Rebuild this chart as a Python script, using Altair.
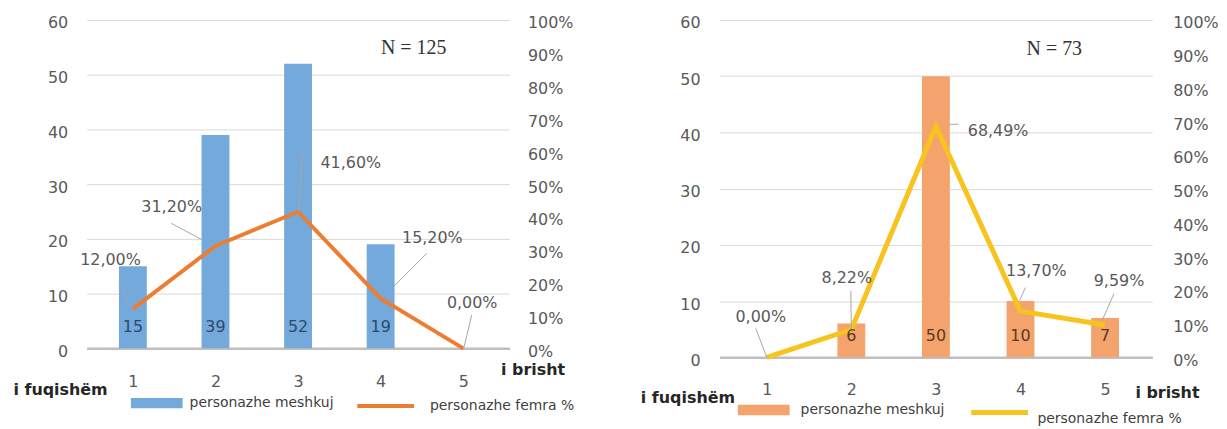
import altair as alt
import pandas as pd

# ---------------- data ----------------
categories = [1, 2, 3, 4, 5]
tick_values = [1, 2, 3, 4, 5]
count_ticks = [0, 10, 20, 30, 40, 50, 60]
pct_ticks = [0, 10, 20, 30, 40, 50, 60, 70, 80, 90, 100]

left_counts = [15, 39, 52, 19, 0]
left_pct = [12.00, 31.20, 41.60, 15.20, 0.00]
left_n = "N = 125"

right_counts = [0, 6, 50, 10, 7]
right_pct = [0.00, 8.22, 68.49, 13.70, 9.59]
right_n = "N = 73"

bar_series = "personazhe meshkuj"
line_series = "personazhe femra %"
low_label = "i fuqishëm"
high_label = "i brisht"

# ---------------- styles ----------------
FONT = "DejaVu Sans"
GRAY = "#595959"


def fmt_pct(v):
    return f"{v:.2f}".replace(".", ",") + "%"


def panel(counts, pct, n_text, w, h, bar_color, line_color, line_w, bar_txt_color,
          label_offsets, leader_offsets, style):
    df = pd.DataFrame({
        "cat": categories,
        "count": counts,
        "pct": pct,
        "pct_label": [fmt_pct(v) for v in pct],
        "bar_s": [bar_series] * len(categories),
        "line_s": [line_series] * len(categories),
    })
    base = alt.Chart(df)

    x_scale = alt.Scale(domain=[0.5, 5.5], nice=False, zero=False)
    x_axis = alt.Axis(
        values=tick_values, format="d", grid=False, ticks=False, tickSize=0,
        domainColor="#bfbfbf", domainWidth=2.5, labelOverlap=False,
        labelFont=FONT, labelFontSize=16, labelColor=GRAY,
        labelPadding=style["xlabpad"],
        title=high_label, titleFont=FONT, titleFontSize=16, titleFontWeight="bold",
        titleColor="#262626", titleAlign="left", titleBaseline="middle",
        titleX=style["xtx"], titleY=style["xty"],
    )
    x_enc = alt.X("cat:Q", scale=x_scale, axis=x_axis)
    y_count = alt.Y(
        "count:Q",
        scale=alt.Scale(domain=[0, 60], nice=False),
        axis=alt.Axis(
            values=count_ticks, grid=True, gridColor="#d9d9d9", gridWidth=1,
            domain=False, ticks=False, tickSize=0, labelOverlap=False,
            labelFont=FONT, labelFontSize=16, labelColor=GRAY,
            labelPadding=style["ylabpad"], labelOffset=3,
            title=low_label, titleFont=FONT, titleFontSize=16, titleFontWeight="bold",
            titleColor="#262626", titleAngle=0, titleAlign="left", titleBaseline="middle",
            titleX=style["ytx"], titleY=style["yty"],
        ),
    )
    pct_scale = alt.Scale(domain=[0, 100], nice=False)
    pct_axis = alt.Axis(
        orient="right", values=pct_ticks, tickCount=11, labelExpr="datum.value + '%'",
        grid=False, domain=False, ticks=False, tickSize=0, labelOverlap=False,
        labelFont=FONT, labelFontSize=16, labelColor=GRAY,
        labelPadding=style["rlabpad"], labelOffset=3, title=None,
    )
    y_pct = alt.Y("pct:Q", scale=pct_scale, axis=pct_axis)

    bar_legend = alt.Legend(
        orient="none", legendX=style["blx"], legendY=style["bly"], title=None,
        direction="horizontal", symbolType="M-1,-0.2H1V0.2H-1Z", symbolSize=2704,
        symbolStrokeWidth=0, labelFont=FONT, labelFontSize=14, labelColor="#404040",
        labelOffset=style["blo"], padding=0,
    )
    line_legend = alt.Legend(
        orient="none", legendX=style["llx"], legendY=style["lly"], title=None,
        direction="horizontal", symbolType="stroke", symbolSize=3249,
        symbolStrokeWidth=line_w, labelFont=FONT, labelFontSize=14, labelColor="#404040",
        labelOffset=style["llo"], labelBaseline=style["llb"], padding=0,
    )

    bars = base.mark_bar(size=28).encode(
        x=x_enc, y=y_count,
        color=alt.Color("bar_s:N", scale=alt.Scale(range=[bar_color]), legend=bar_legend),
    )

    line = base.mark_line(strokeWidth=line_w).encode(
        x=x_enc, y=y_pct,
        stroke=alt.Stroke("line_s:N", scale=alt.Scale(range=[line_color]), legend=line_legend),
    )

    bar_labels = base.mark_text(
        dy=-21, font=FONT, fontSize=16, color=bar_txt_color
    ).encode(
        x=x_enc, y=alt.YDatum(0, scale=pct_scale, axis=pct_axis), text="count:Q"
    ).transform_filter("datum.count > 0")

    extras = []
    for i, cat in enumerate(categories):
        (sx, sy), (ex, ey) = leader_offsets[i]
        extras.append(
            base.mark_rule(color="#a6a6a6", strokeWidth=1,
                           xOffset=sx, yOffset=sy, x2Offset=ex, y2Offset=ey)
            .encode(x=x_enc, y=y_pct, x2="cat:Q", y2="pct:Q")
            .transform_filter(f"datum.cat == {cat}")
        )
        dx, dy = label_offsets[i]
        extras.append(
            base.mark_text(dx=dx, dy=dy, font=FONT, fontSize=16, color=GRAY)
            .encode(x=x_enc, y=y_pct, text="pct_label:N")
            .transform_filter(f"datum.cat == {cat}")
        )

    n_label = alt.Chart(pd.DataFrame({"t": [n_text]})).mark_text(
        font="Liberation Serif", fontSize=20, color="#333333"
    ).encode(
        x=alt.XDatum(4.4, scale=x_scale, axis=x_axis),
        y=alt.YDatum(91.5, scale=pct_scale, axis=pct_axis),
        text="t:N",
    )

    pct_layer = alt.layer(line, *extras, bar_labels, n_label)
    return alt.layer(bars, pct_layer).resolve_scale(y="independent").properties(
        width=w, height=h
    )


left_style = dict(xlabpad=25, xtx=416, xty=21.5, ylabpad=19, ytx=-74, yty=371, rlabpad=18,
                  blx=44.5, bly=359, blo=7, llx=270, lly=357.5, llo=14, llb="middle")
right_style = dict(xlabpad=24, xtx=417.5, xty=35, ylabpad=19.5, ytx=-79.5, yty=379, rlabpad=20.5,
                   blx=18.5, bly=366, blo=11, llx=250.5, lly=363.5, llo=7, llb="top")

left = panel(
    left_counts, left_pct, left_n, 425, 330, "#74A9DB", "#ED7D31", 4, "#2E4A6B",
    [(-22.5, -49), (-44, -39), (53, -49), (52, -61), (9, -45.5)],
    [((-3, -2), (-14, -26)), ((-12.5, -5.7), (-44.5, -22.7)), ((0.5, 0), (4.5, -58)),
     ((12.5, -11.4), (46.5, -45.4)), ((0.5, 0), (8.5, -33.5))],
    left_style,
)
right = panel(
    right_counts, right_pct, right_n, 435, 339, "#F3A36B", "#F7C41F", 5, "#5B3A24",
    [(-6, -40), (-4.5, -52), (62.5, 5), (16, -40.6), (14, -44.5)],
    [((0, 0), (-11, -29)), ((0, 0), (-0.5, -39)), ((13, -2), (23, -2)),
     ((-1, -10.6), (5, -23.6)), ((-3, -4.5), (9, -31.5))],
    right_style,
)

chart = alt.hconcat(left, right, spacing=65).resolve_scale(
    color="independent", stroke="independent"
).resolve_legend(
    color="independent", stroke="independent"
).properties(
    padding={"left": 5, "top": 6, "right": 0, "bottom": 0}
).configure_view(strokeWidth=0).configure_axis(labelOverlap=False)

chart.save("out.html", embed_options={"renderer": "svg", "actions": False})
